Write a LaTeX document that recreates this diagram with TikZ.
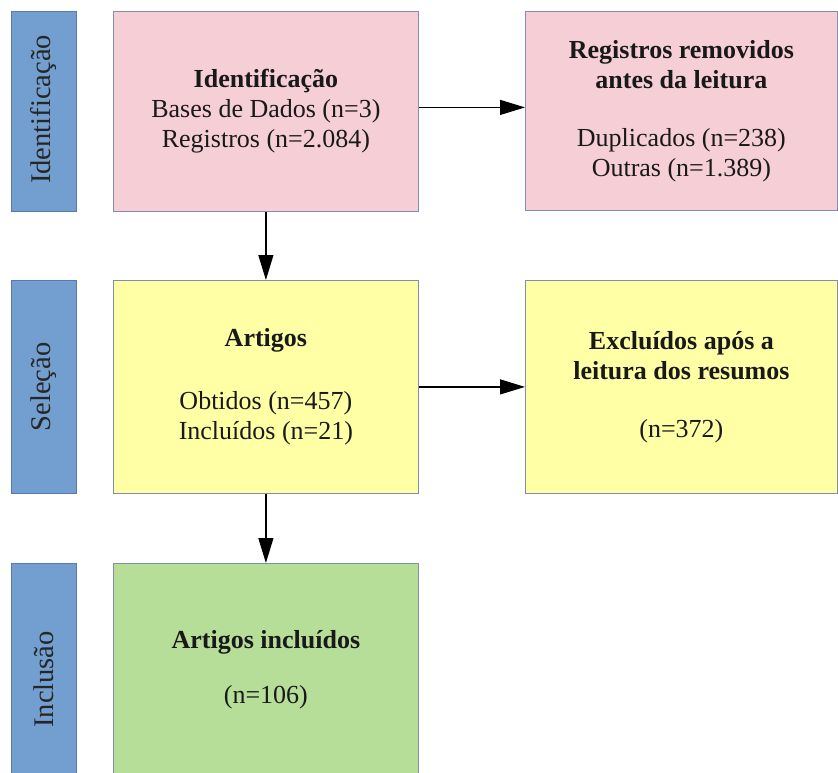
\documentclass[tikz,border=0pt]{standalone}
\usepackage{fontspec}
\setmainfont{Liberation Serif}
\usetikzlibrary{arrows.meta}
\definecolor{phaseblue}{RGB}{114,159,207}
\definecolor{phaseedge}{RGB}{90,120,170}
\definecolor{boxpink}{RGB}{245,206,214}
\definecolor{boxyellow}{RGB}{255,255,166}
\definecolor{boxgreen}{RGB}{183,222,152}
\definecolor{boxedge}{RGB}{130,140,175}
\tikzset{
  phase/.style={draw=phaseedge, line width=0.8pt, fill=phaseblue, anchor=north west,
    minimum width=65pt, inner sep=0pt},
  phaselabel/.style={rotate=90, font=\fontsize{28.5}{32}\selectfont, text=black!85},
  stagebox/.style={draw=boxedge, line width=0.8pt, anchor=north west, inner sep=0pt,
    align=center, font=\fontsize{26}{30}\selectfont, text=black!90},
  flow/.style={line width=1.2pt, -{Triangle[length=25pt,width=15pt]}}
}
\begin{document}
\begin{tikzpicture}[x=1pt,y=-1pt]
  \useasboundingbox (0,0) rectangle (838,772);
  \begin{scope}
  \clip (0,0) rectangle (838,772);
  % phase bars on the left
  \node[phase, minimum height=200pt] (p1) at (11,11) {};
  \node[phaselabel] (p1t) at ([yshift=2pt]p1.center) {Identificação};
  \node[phase, minimum height=213pt] (p2) at (11,280) {};
  \node[phaselabel] (p2t) at (p2.center) {Seleção};
  \node[phase, minimum height=220pt] (p3) at (11,563) {};
  \node[phaselabel] (p3t) at ([yshift=-6pt]p3.center) {Inclusão};
  % stage boxes
  \node[stagebox, fill=boxpink, minimum width=305pt, minimum height=200pt] (ident) at (113,11)
    {\textbf{Identificação}\\Bases de Dados (n=3)\\Registros (n=2.084)};
  \node[stagebox, fill=boxpink, minimum width=312pt, minimum height=199pt] (remov) at (525,11)
    {\textbf{Registros removidos}\\\textbf{antes da leitura}\\[28pt]Duplicados (n=238)\\Outras (n=1.389)};
  \node[stagebox, fill=boxyellow, minimum width=305pt, minimum height=213pt] (artig) at (113,280)
    {\textbf{Artigos}\\[33pt]Obtidos (n=457)\\Incluídos (n=21)};
  \node[stagebox, fill=boxyellow, minimum width=312pt, minimum height=213pt] (exclu) at (525,280)
    {\textbf{Excluídos após a}\\\textbf{leitura dos resumos}\\[28pt](n=372)};
  \node[stagebox, fill=boxgreen, minimum width=305pt, minimum height=213pt] (inclu) at (113,563)
    {\textbf{Artigos incluídos}\\[25pt](n=106)};
  \end{scope}
  % connectors
  \draw[flow] ([yshift=4pt]ident.east) -- ([yshift=4pt]remov.west |- ident.east);
  \draw[flow] (ident.south) -- (artig.north);
  \draw[flow] (artig.east) -- (exclu.west |- artig.east);
  \draw[flow] (artig.south) -- (inclu.north);
\end{tikzpicture}
\end{document}
